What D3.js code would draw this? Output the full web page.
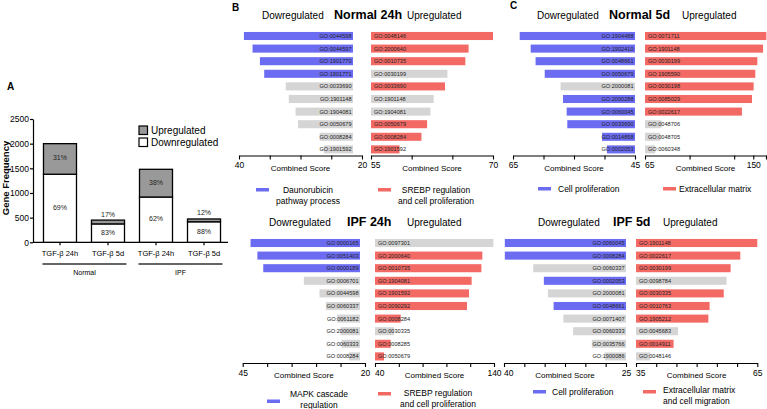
<!DOCTYPE html>
<html><head><meta charset="utf-8">
<script src="https://cdn.jsdelivr.net/npm/d3@7"></script>
<style>
body{margin:0;background:#fff}
svg{display:block;font-family:"Liberation Sans",Arial,Helvetica,sans-serif}
</style>
</head><body>
<svg id="c" width="767" height="409"></svg>
<script>
// ---------- DATA ----------
// Panel A
const conditionsA = ["TGF-β 24h","TGF-β 5d","TGF-β 24h","TGF-β 5d"];
const cellGroups = ["Normal","IPF"];
const downGenes = [1380, 373, 918, 416];
const upGenes   = [620, 77, 562, 57];
const downPct = ["69%","83%","62%","88%"];
const upPct   = ["31%","17%","38%","12%"];
const yTicksA = [0,500,1000,1500,2000,2500];

// Normal 24h
const n24DownTerms = ["GO:0044598","GO:0044597","GO:1901770","GO:1901771","GO:0033690","GO:1901148","GO:1904081","GO:0050679","GO:0008284","GO:1901592"];
const n24DownScores = [39.2,37.8,36.6,35.9,32.4,31.9,30.8,30.4,26.9,26.2];
const n24DownHL = [1,1,1,1,0,0,0,0,0,0];
const n24UpTerms = ["GO:0048146","GO:2000640","GO:0010735","GO:0030199","GO:0033690","GO:1901148","GO:1904081","GO:0050679","GO:0008284","GO:1901592"];
const n24UpScores = [70.0,67.0,66.6,64.4,64.1,62.7,62.3,61.9,61.2,58.5];
const n24UpHL = [1,1,1,0,1,0,0,1,1,1];

// Normal 5d
const n5DownTerms = ["GO:1904488","GO:1902410","GO:0048661","GO:0050679","GO:2000081","GO:2000288","GO:0060045","GO:0033690","GO:0014858","GO:0002053"];
const n5DownScores = [63.9,62.1,61.3,59.8,57.2,56.8,56.2,56.1,50.4,49.6];
const n5DownHL = [1,1,1,1,0,1,1,1,1,1];
const n5UpTerms = ["GO:0071711","GO:1901148","GO:0030199","GO:1905590","GO:0030198","GO:0085029","GO:0022617","GO:0048706","GO:0048705","GO:0060348"];
const n5UpScores = [160.3,157.7,153.2,151.6,150.3,149.0,141.1,78,77,73];
const n5UpHL = [1,1,1,1,1,1,1,0,0,0];

// IPF 24h
const i24DownTerms = ["GO:0000165","GO:0051403","GO:0000189","GO:0006701","GO:0044598","GO:0060337","GO:0061182","GO:2000081","GO:0060333","GO:0008284"];
const i24DownScores = [43.4,42.0,40.8,32.5,29.3,28.0,25.7,25.0,24.8,23.3];
const i24DownHL = [1,1,1,0,0,0,0,0,0,0];
const i24UpTerms = ["GO:0097301","GO:2000640","GO:0010735","GO:1904081","GO:1901592","GO:0090292","GO:0008284","GO:0030335","GO:0008285","GO:0050679"];
const i24UpScores = [139.5,130.2,129.4,121.2,119.0,117.3,61.6,56.0,53.2,47.6];
const i24UpHL = [0,1,1,1,1,1,1,0,1,1];

// IPF 5d
const i5DownTerms = ["GO:0060045","GO:0008284","GO:0060337","GO:0002053","GO:2000081","GO:0048661","GO:0071407","GO:0060333","GO:0035766","GO:1900086"];
const i5DownScores = [39.9,39.9,36.4,35.1,34.6,33.9,32.7,31.5,29.2,27.6];
const i5DownHL = [1,1,0,1,0,1,0,0,0,0];
const i5UpTerms = ["GO:1901148","GO:0022617","GO:0030199","GO:0098784","GO:0030335","GO:0010763","GO:1905212","GO:0045683","GO:0014911","GO:0048146"];
const i5UpScores = [65.0,60.8,58.4,57.4,56.7,53.2,52.9,45.4,44.3,38.5];
const i5UpHL = [1,1,1,0,1,1,1,0,1,0];

// ---------- STYLE ----------
const BLUE = "#6b6cf1", RED = "#f36a65", GRAY = "#d5d5d5";
const svg = d3.select("#c");

// ---------- PANEL A ----------
const gA = svg.append("g");
gA.append("text").attr("x",7).attr("y",90).attr("font-size",10).attr("font-weight","bold").text("A");
const xA = d3.scaleBand().domain(d3.range(4)).range([36,228]).paddingInner(0.3125).paddingOuter(0.156);
const yA = d3.scaleLinear().domain([0,2500]).range([242.3,119]);
const axA = gA.append("g").attr("transform","translate(33,0)")
  .call(d3.axisLeft(yA).tickValues(yTicksA).tickFormat(d3.format("d")).tickSize(3).tickSizeOuter(0).tickPadding(1));
axA.selectAll("text").attr("font-size",8.5).attr("fill","#000");
axA.selectAll("line,path").attr("stroke","#000").attr("stroke-width",1.2);
gA.append("line").attr("x1",33).attr("x2",228).attr("y1",yA(0)).attr("y2",yA(0)).attr("stroke","#000").attr("stroke-width",1.2);
gA.append("text").attr("transform","translate(8.5,178) rotate(-90)").attr("text-anchor","middle")
  .attr("font-size",9.5).attr("font-weight","bold").text("Gene Frequency");

const bw = xA.bandwidth();
d3.range(4).forEach(i=>{
  const x = xA(i), tot = downGenes[i]+upGenes[i];
  gA.append("rect").attr("x",x).attr("width",bw).attr("y",yA(downGenes[i])).attr("height",yA(0)-yA(downGenes[i]))
    .attr("fill","#fff").attr("stroke","#000").attr("stroke-width",1.3);
  gA.append("rect").attr("x",x).attr("width",bw).attr("y",yA(tot)).attr("height",yA(downGenes[i])-yA(tot))
    .attr("fill","#999").attr("stroke","#000").attr("stroke-width",1.3);
  const cx = x+bw/2;
  gA.append("line").attr("x1",cx).attr("x2",cx).attr("y1",yA(0)).attr("y2",yA(0)+3).attr("stroke","#000").attr("stroke-width",1.2);
  gA.append("text").attr("x",cx).attr("y",256).attr("text-anchor","middle").attr("font-size",7.5).text(conditionsA[i]);
  const upH = yA(downGenes[i])-yA(tot);
  const upY = upH < 14 ? yA(tot)-6 : (yA(tot)+yA(downGenes[i]))/2 - 1;
  gA.append("text").attr("x",cx).attr("y",upY+2.5).attr("text-anchor","middle").attr("font-size",7).attr("fill","#222").text(upPct[i]);
  const dnY = (yA(0)+yA(downGenes[i]))/2 - 1;
  gA.append("text").attr("x",cx).attr("y",dnY+2.5).attr("text-anchor","middle").attr("font-size",7).attr("fill","#222").text(downPct[i]);
});
cellGroups.forEach((g,k)=>{
  const x1 = xA(2*k)-1, x2 = xA(2*k+1)+bw+2;
  gA.append("line").attr("x1",x1).attr("x2",x2).attr("y1",264).attr("y2",264).attr("stroke","#333").attr("stroke-width",1.4);
  gA.append("text").attr("x",(x1+x2)/2).attr("y",274.5).attr("text-anchor","middle").attr("font-size",7).text(g);
});
// legend
[["Upregulated","#999",126],["Downregulated","#fff",138]].forEach(([t,f,y])=>{
  gA.append("rect").attr("x",139).attr("y",y).attr("width",8.5).attr("height",8.5).attr("fill",f).attr("stroke","#000").attr("stroke-width",1.2);
  gA.append("text").attr("x",151).attr("y",y+8).attr("font-size",10).text(t);
});

// ---------- DIVERGING PANELS ----------
svg.append("text").attr("x",232).attr("y",11).attr("font-size",10).attr("font-weight","bold").text("B");
svg.append("text").attr("x",510).attr("y",9).attr("font-size",10).attr("font-weight","bold").text("C");

const charts = [
 { title:"Normal 24h", band:[29.7,155.7], axisY:155.5, head:{down:262,title:334,up:407,y:19},
   L:{terms:n24DownTerms, scores:n24DownScores, hl:n24DownHL, domain:[40,20], range:[239,362], ticks:[40,35,30,25,20], labeled:[40,20], base:353, color:BLUE},
   R:{terms:n24UpTerms, scores:n24UpScores, hl:n24UpHL, domain:[55,70], range:[371,493], ticks:[55,60,65,70], labeled:[55,70], base:371, color:RED, firstStart:true},
   legL:{rx:256,ry:188,lines:["Daunorubicin","pathway process"],tx:308,ty:193,anchor:"middle"},
   legR:{rx:378,ry:188,lines:["SREBP regulation","and cell proliferation"],tx:436,ty:193,anchor:"middle"} },
 { title:"Normal 5d", band:[29.7,155.7], axisY:155.5, head:{down:537,title:609,up:682,y:19},
   L:{terms:n5DownTerms, scores:n5DownScores, hl:n5DownHL, domain:[65,45], range:[513,635], ticks:[65,60,55,50,45], labeled:[65,45], base:635, color:BLUE},
   R:{terms:n5UpTerms, scores:n5UpScores, hl:n5UpHL, domain:[65,160], range:[645,766], ticks:[65,100,135,150,160], labeled:[65,150], base:645, color:RED, firstStart:true},
   legL:{rx:538,ry:187,lines:["Cell proliferation"],tx:558,ty:192,anchor:"start"},
   legR:{rx:663,ry:187,lines:["Extracellular matrix"],tx:679,ty:192,anchor:"start"} },
 { title:"IPF 24h", band:[236.7,362.7], axisY:363, head:{down:269,title:347,up:407,y:226},
   L:{terms:i24DownTerms, scores:i24DownScores, hl:i24DownHL, domain:[45,20], range:[242.7,365], ticks:[45,40,35,30,25,20], labeled:[45,20], base:360, color:BLUE},
   R:{terms:i24UpTerms, scores:i24UpScores, hl:i24UpHL, domain:[40,140], range:[375,494], ticks:[40,60,80,100,120,140], labeled:[40,140], base:375, color:RED, firstStart:true},
   legL:{rx:267,ry:399.5,lines:["MAPK cascade","regulation"],tx:319,ty:397,anchor:"middle"},
   legR:{rx:378,ry:392,lines:["SREBP regulation","and cell proliferation"],tx:438,ty:396,anchor:"middle"} },
 { title:"IPF 5d", band:[236.7,362.7], axisY:363, head:{down:538,title:613,up:663,y:226},
   L:{terms:i5DownTerms, scores:i5DownScores, hl:i5DownHL, domain:[40,25], range:[504,626], ticks:[40,37.5,35,32.5,30,27.5,25], labeled:[40,25], base:626, color:BLUE, firstStart:true},
   R:{terms:i5UpTerms, scores:i5UpScores, hl:i5UpHL, domain:[35,65], range:[636,757.3], ticks:[35,40,45,50,55,60,65], labeled:[35,65], base:636, color:RED, firstStart:true},
   legL:{rx:533,ry:390,lines:["Cell proliferation"],tx:552,ty:395,anchor:"start"},
   legR:{rx:643,ry:390,lines:["Extracellular matrix","and cell migration"],tx:663,ty:393,anchor:"start"} }
];

charts.forEach(c=>{
  const g = svg.append("g");
  g.append("text").attr("x",c.head.down).attr("y",c.head.y).attr("font-size",10).text("Dowregulated");
  g.append("text").attr("x",c.head.title).attr("y",c.head.y).attr("font-size",12.5).attr("font-weight","bold").text(c.title);
  g.append("text").attr("x",c.head.up).attr("y",c.head.y).attr("font-size",10).text("Upregulated");

  const y = d3.scaleBand().domain(d3.range(10)).range(c.band).paddingInner(0.36).paddingOuter(0.18);
  ["L","R"].forEach(side=>{
    const s = c[side];
    const x = d3.scaleLinear().domain(s.domain).range(s.range);
    const rows = s.terms.map((t,i)=>({t, v:s.scores[i], h:s.hl[i], i}));
    g.selectAll(null).data(rows).enter().append("rect")
      .attr("x", d => side==="L" ? x(d.v) : s.base)
      .attr("width", d => side==="L" ? s.base - x(d.v) : x(d.v) - s.base)
      .attr("y", d => y(d.i)).attr("height", y.bandwidth())
      .attr("fill", d => d.h ? s.color : GRAY);
    g.selectAll(null).data(rows).enter().append("text")
      .attr("x", side==="L" ? s.base-1.5 : s.base+3)
      .attr("y", d => y(d.i)+y.bandwidth()/2+2)
      .attr("text-anchor", side==="L" ? "end" : "start")
      .attr("font-size",5.6).attr("fill","#222").text(d=>d.t);
    const ax = g.append("g").attr("transform",`translate(0,${c.axisY})`)
      .call(d3.axisBottom(x).tickValues(s.ticks).tickSize(4).tickSizeOuter(0).tickPadding(2.5)
        .tickFormat(d => s.labeled.includes(d) ? d : ""));
    ax.selectAll("text").attr("font-size",8.5).attr("fill","#000");
    if (s.firstStart) {
      ax.selectAll(".tick text").filter(d => d === s.domain[0]).attr("text-anchor","start").attr("dx",-0.5);
    }
    ax.selectAll("line,path").attr("stroke","#000").attr("stroke-width",1.1);
    g.append("text").attr("x",(s.range[0]+s.range[1])/2).attr("y",c.axisY+15)
      .attr("text-anchor","middle").attr("font-size",8).text("Combined Score");
    const lg = side==="L" ? c.legL : c.legR;
    g.append("rect").attr("x",lg.rx).attr("y",lg.ry).attr("width",13).attr("height",3.5).attr("fill",s.color);
    lg.lines.forEach((ln,k)=>{
      g.append("text").attr("x",lg.tx).attr("y",lg.ty+k*10.5).attr("text-anchor",lg.anchor)
        .attr("font-size",8.5).text(ln);
    });
  });
});
</script>
</body></html>
